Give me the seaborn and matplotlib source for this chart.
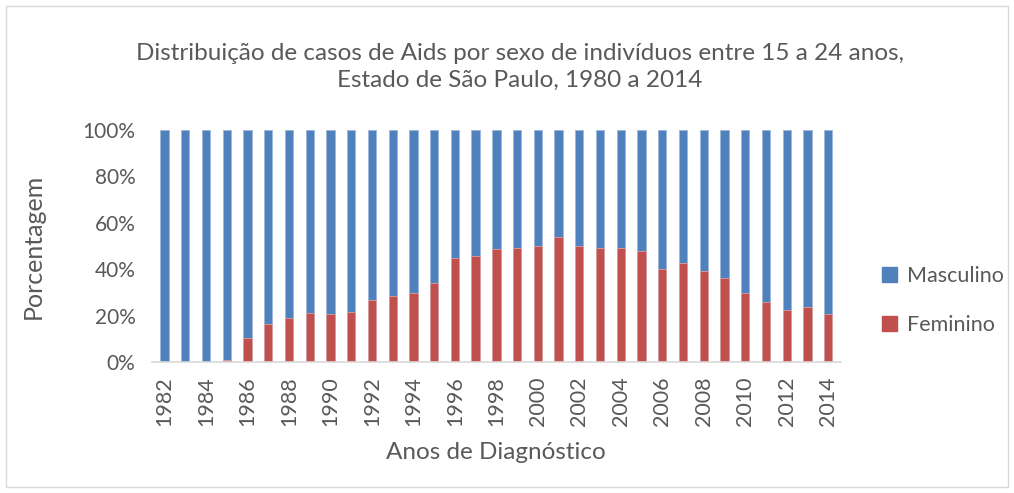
import matplotlib
matplotlib.use("Agg")
import matplotlib.pyplot as plt
import matplotlib.patches as mpatches
import seaborn as sns
import pandas as pd
from matplotlib.ticker import FuncFormatter

years = list(range(1982, 2015))
feminino = [0.0, 0.0, 0.0, 0.9, 10.5, 16.5, 19.1, 21.2, 20.7, 21.5, 26.9, 28.6, 29.9,
            34.0, 44.7, 45.8, 48.6, 49.3, 50.0, 53.8, 49.9, 49.3, 49.3, 48.0, 40.3,
            42.5, 39.2, 36.4, 29.8, 26.0, 22.5, 23.7, 20.8]
masculino = [100.0, 100.0, 100.0, 99.1, 89.5, 83.5, 80.9, 78.8, 79.3, 78.5, 73.1, 71.4, 70.1,
             66.0, 55.3, 54.2, 51.4, 50.7, 50.0, 46.2, 50.1, 50.7, 50.7, 52.0, 59.7,
             57.5, 60.8, 63.6, 70.2, 74.0, 77.5, 76.3, 79.2]

title = "Distribuição de casos de Aids por sexo de indivíduos entre 15 a 24 anos,\nEstado de São Paulo, 1980 a 2014"
xlabel = "Anos de Diagnóstico"
ylabel = "Porcentagem"

df = pd.DataFrame({"ano": [str(y) for y in years], "fem": feminino, "masc": masculino})
df["total"] = df["fem"] + df["masc"]

sns.set_theme(style="white")
plt.rcParams["font.family"] = ["Lato", "DejaVu Sans"]
txt = "#595959"

fig = plt.figure(figsize=(10.14, 4.93), dpi=100)
ax = fig.add_axes([0.150, 0.265, 0.679, 0.472])

blue = "#4F81BD"
red = "#C0504D"
order = df["ano"].tolist()
sns.barplot(data=df, x="ano", y="total", color=blue, order=order, width=0.4,
            saturation=1, edgecolor="#9DB7DB", linewidth=0.6, ax=ax)
sns.barplot(data=df, x="ano", y="fem", color=red, order=order, width=0.4,
            saturation=1, edgecolor="#DDA09F", linewidth=0.6, ax=ax)

ax.set_ylim(0, 100)
ax.set_xlim(-0.6, len(years) - 0.4)
ax.set_yticks([0, 20, 40, 60, 80, 100])
ax.yaxis.set_major_formatter(FuncFormatter(lambda v, p: f"{int(v)}%"))
ax.set_xticks(range(0, len(years), 2))
ax.set_xticklabels([str(y) for y in years[::2]], rotation=90)
ax.tick_params(axis="y", labelsize=15, colors=txt, length=0, pad=12)
ax.tick_params(axis="x", labelsize=15.5, colors=txt, length=0, pad=10)
for s in ["top", "right", "left"]:
    ax.spines[s].set_visible(False)
ax.spines["bottom"].set_color("#D9D9D9")
ax.spines["bottom"].set_linewidth(1.2)

ax.set_xlabel(xlabel, fontsize=17.5, color=txt)
ax.set_ylabel(ylabel, fontsize=18, color=txt)
ax.xaxis.set_label_coords(0.5, -0.388)
ax.yaxis.set_label_coords(-0.173, 0.5)
ax.xaxis.label.set_va("center")
ax.yaxis.label.set_va("center")
fig.text(0.513, 0.865, title, ha="center", va="center", fontsize=17.5, color=txt, linespacing=1.35)

handles = [mpatches.Patch(color=blue, label="Masculino"), mpatches.Patch(color=red, label="Feminino")]
fig.legend(handles=handles, loc="center left", bbox_to_anchor=(0.851, 0.390), frameon=False,
           fontsize=15.5, labelcolor=txt, handlelength=0.7, handleheight=0.7,
           handletextpad=0.45, labelspacing=1.35)

fig.patches.append(mpatches.Rectangle((0.006, 0.012), 0.988, 0.976, transform=fig.transFigure,
                                      fill=False, edgecolor="#D9D9D9", linewidth=1))

fig.savefig("out.png", dpi=100)
